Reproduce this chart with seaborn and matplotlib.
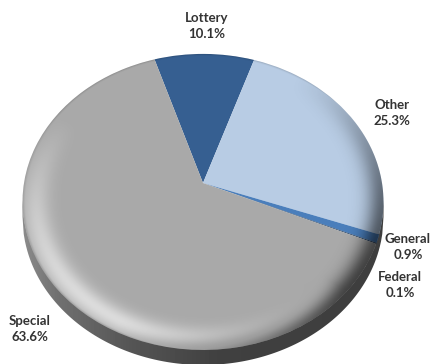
import numpy as np
import matplotlib
matplotlib.use("Agg")
import matplotlib.pyplot as plt
import seaborn as sns
from matplotlib.patches import Ellipse, Polygon
from matplotlib.transforms import Transform

categorias = ["Lottery", "Other", "General", "Federal", "Special"]
valores = [10.1, 25.3, 0.9, 0.1, 63.6]
colores = ["#365f91", "#b8cce4", "#4a7ebb", "#254061", "#a9a9a9"]

sns.set_theme(style="white")
plt.rcParams["font.family"] = ["Lato", "DejaVu Sans"]

# centro del pie en pixeles y parametros de la perspectiva
CX, CY = 203, 183
A, B, K = 179, 145.6, 0.128
ALTO_LADO = 15


class Perspectiva(Transform):
    input_dims = 2
    output_dims = 2
    is_separable = False

    def transform_non_affine(self, values):
        values = np.asarray(values, dtype=float)
        u, v = values[:, 0], values[:, 1]
        w = 1 + K * v
        return np.column_stack([CX + A * u / w, CY - B * v / w])

    def inverted(self):
        raise NotImplementedError


persp = Perspectiva()

fig = plt.figure(figsize=(4.35, 3.64), dpi=100)
ax = fig.add_axes([0, 0, 1, 1])

wedges, _ = ax.pie(valores, colors=colores, startangle=107.7, counterclock=False,
                   wedgeprops={"linewidth": 0})
for w in wedges:
    w.set_transform(persp + ax.transData)
    w.set_zorder(3)

ax.set_aspect("auto")
ax.set_xlim(0, 435)
ax.set_ylim(364, 0)
ax.axis("off")

# contorno del pie
t = np.linspace(0, 2 * np.pi, 400)
borde = persp.transform(np.column_stack([np.cos(t), np.sin(t)]))
cy_e = (borde[:, 1].min() + borde[:, 1].max()) / 2
ry_e = (borde[:, 1].max() - borde[:, 1].min()) / 2
cx_e = (borde[:, 0].min() + borde[:, 0].max()) / 2
rx_e = (borde[:, 0].max() - borde[:, 0].min()) / 2

X, Y = np.meshgrid(np.arange(435) + 0.5, np.arange(364) + 0.5)

# lado del pie: gradiente horizontal oscuro
frac = np.clip((X - 22) / 361, 0, 1)
gris = np.interp(frac, [0, 0.1, 0.3, 0.55, 1], [140, 112, 85, 64, 62]) / 255
lado = ax.imshow(gris, cmap="gray", vmin=0, vmax=1, extent=(0, 435, 364, 0),
                 zorder=1, aspect="auto", interpolation="bilinear")
xs = np.linspace(cx_e - rx_e, cx_e + rx_e, 300)
ys_low = cy_e + ry_e * np.sqrt(np.clip(1 - ((xs - cx_e) / rx_e) ** 2, 0, 1))
poli = np.vstack([np.column_stack([xs, ys_low - 2]),
                  np.column_stack([xs[::-1], ys_low[::-1] + ALTO_LADO])])
clip_lado = Polygon(poli, closed=True, transform=ax.transData, facecolor="none", edgecolor="none")
ax.add_patch(clip_lado)
lado.set_clip_path(clip_lado)

# bisel: luz abajo a la izquierda, sombra abajo a la derecha
ex = (X - cx_e) / rx_e
ey = (Y - cy_e) / ry_e
rho = np.sqrt(ex ** 2 + ey ** 2) + 1e-6
inset = (1 - rho) * 170
luz = np.clip((-0.6 * ex + 0.8 * ey) / rho, 0, 1)
sombra = np.clip((0.85 * ex + 0.5 * ey) / rho, 0, 1)
claro = 0.6 * luz * np.exp(-((inset - 13) / 13) ** 2)
oscuro = 0.62 * sombra ** 1.4 * np.exp(-(np.clip(inset, 0, None) / 15) ** 2)
fino = 0.14 * np.exp(-(np.clip(inset, 0, None) / 1.5) ** 2)
oscuro = np.maximum(oscuro, fino)
rgba = np.zeros(X.shape + (4,))
tono = claro / (claro + oscuro + 1e-6)
rgba[..., 0] = rgba[..., 1] = rgba[..., 2] = tono
rgba[..., 3] = np.maximum(claro, oscuro)
bisel = ax.imshow(rgba, extent=(0, 435, 364, 0), zorder=4, aspect="auto", interpolation="bilinear")
clip_top = Ellipse((cx_e, cy_e), 2 * rx_e, 2 * ry_e, transform=ax.transData, facecolor="none", edgecolor="none")
ax.add_patch(clip_top)
bisel.set_clip_path(clip_top)

ax.set_xlim(0, 435)
ax.set_ylim(364, 0)

# etiquetas
pos_etiquetas = [(207, 26), (392, 113), (408, 247), (400, 285), (30, 329)]
for nombre, valor, (x, y) in zip(categorias, valores, pos_etiquetas):
    ax.text(x, y, f"{nombre}\n{valor}%", ha="center", va="center", fontsize=9.5,
            fontweight="bold", color="#333333", linespacing=1.45, zorder=5)

fig.savefig("out.png", dpi=100)
